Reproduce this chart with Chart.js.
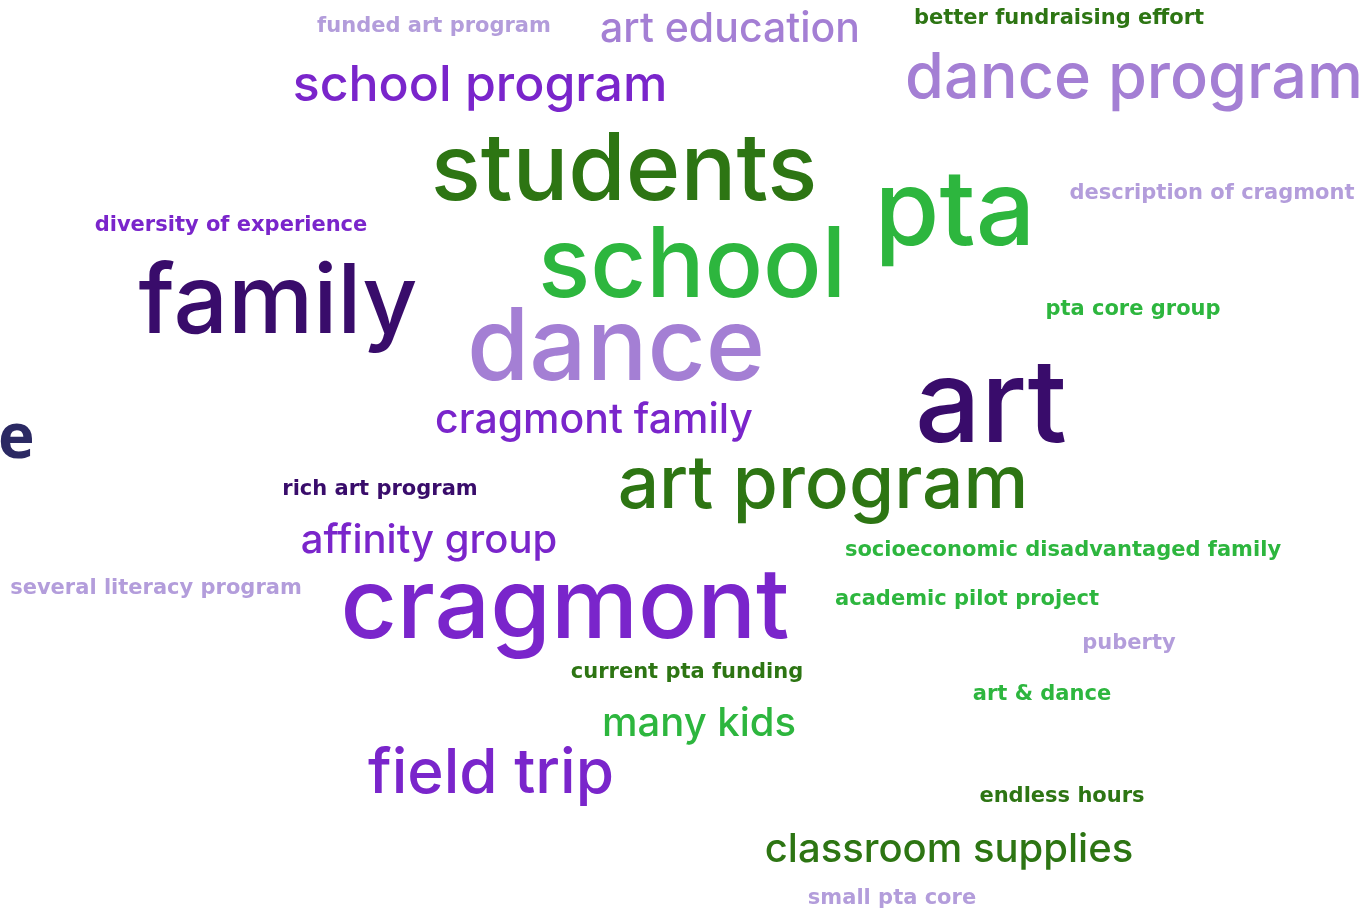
<!DOCTYPE html>
<html lang="en">
<head>
    <meta charset="UTF-8">
    <title>Word cloud</title>
    <script src="https://cdn.jsdelivr.net/npm/chart.js"></script>
    <style>
        html, body { margin: 0; padding: 0; background: #ffffff; }
        .cloud-wrap { position: relative; width: 1368px; height: 909px; }
    </style>
</head>
<body>
    <div class="cloud-wrap">
        <canvas id="wordCloud"></canvas>
    </div>

    <script>
        // words of the cloud
        const words = [
            'funded art program', 'art education', 'better fundraising effort',
            'school program', 'dance program', 'students', 'pta',
            'description of cragmont', 'diversity of experience', 'family',
            'school', 'pta core group', 'dance', 'art', 'cragmont family',
            'rich art program', 'art program', 'affinity group',
            'socioeconomic disadvantaged family', 'several literacy program',
            'cragmont', 'academic pilot project', 'puberty', 'current pta funding',
            'art & dance', 'many kids', 'field trip', 'endless hours',
            'classroom supplies', 'small pta core', 'e'
        ];

        // weight of each word (used as font size, like the wordcloud plugin)
        const weights = [
            21, 41, 21,
            50, 63, 93, 105,
            21, 21, 96,
            97, 21, 101, 116, 41,
            21, 73, 40,
            21, 21,
            98, 21, 21, 21,
            21, 40, 62, 21,
            40, 21, 62
        ];

        // layout coordinates of each word (centre x, baseline y)
        const cloudX = [
            434, 730, 1059,
            480, 1134, 624, 955,
            1212, 231, 278,
            692, 1133, 616, 991, 594,
            380, 823, 429,
            1063, 156,
            565, 967, 1129, 687,
            1042, 699, 491, 1062,
            949, 892, 8
        ];
        const cloudY = [
            32, 42, 24,
            101, 98, 200, 245,
            199, 231, 333,
            297, 315, 380, 442, 433,
            495, 508, 553,
            556, 594,
            638, 605, 649, 678,
            700, 736, 793, 802,
            862, 904, 458
        ];

        const palette = {
            darkGreen: '#2d7513',
            green: '#2db63e',
            lavender: '#a47fd4',
            lightLavender: '#b39ddb',
            darkPurple: '#390c6b',
            purple: '#7a25cb',
            navy: '#2b2963'
        };
        const wordColors = [
            'lightLavender', 'lavender', 'darkGreen',
            'purple', 'lavender', 'darkGreen', 'green',
            'lightLavender', 'purple', 'darkPurple',
            'green', 'green', 'lavender', 'darkPurple', 'purple',
            'darkPurple', 'darkGreen', 'purple',
            'green', 'lightLavender',
            'purple', 'green', 'lightLavender', 'darkGreen',
            'green', 'green', 'purple', 'darkGreen',
            'darkGreen', 'lightLavender', 'navy'
        ].map(k => palette[k]);

        const wordPlugin = {
            id: 'wordPlugin',
            afterDatasetsDraw(chart) {
                const ctx = chart.ctx;
                const meta = chart.getDatasetMeta(0);
                ctx.save();
                ctx.textAlign = 'center';
                ctx.textBaseline = 'alphabetic';
                meta.data.forEach((pt, i) => {
                    const size = weights[i];
                    ctx.fillStyle = wordColors[i];
                    if (words[i] === 'e') {
                        // cut-off title letter at the left edge
                        ctx.textAlign = 'left';
                        ctx.font = '700 ' + size + 'px "Open Sans", sans-serif';
                        ctx.fillText(words[i], pt.x - 10, pt.y);
                        ctx.textAlign = 'center';
                        return;
                    }
                    if (size <= 22) {
                        ctx.font = '700 ' + size + 'px "DejaVu Sans", sans-serif';
                    } else {
                        ctx.font = '500 ' + size + 'px Inter, "Noto Sans", sans-serif';
                    }
                    ctx.fillText(words[i], pt.x, pt.y);
                });
                ctx.restore();
            }
        };

        new Chart(document.getElementById('wordCloud'), {
            type: 'scatter',
            data: {
                labels: words,
                datasets: [{
                    data: words.map((w, i) => ({ x: cloudX[i], y: cloudY[i] })),
                    pointRadius: 0,
                    pointHoverRadius: 0
                }]
            },
            options: {
                responsive: true,
                maintainAspectRatio: false,
                animation: false,
                layout: { padding: 0 },
                plugins: {
                    legend: { display: false },
                    tooltip: { enabled: false }
                },
                scales: {
                    x: { display: false, min: 0, max: 1368 },
                    y: { display: false, min: 0, max: 909, reverse: true }
                }
            },
            plugins: [wordPlugin]
        });
    </script>
</body>
</html>
